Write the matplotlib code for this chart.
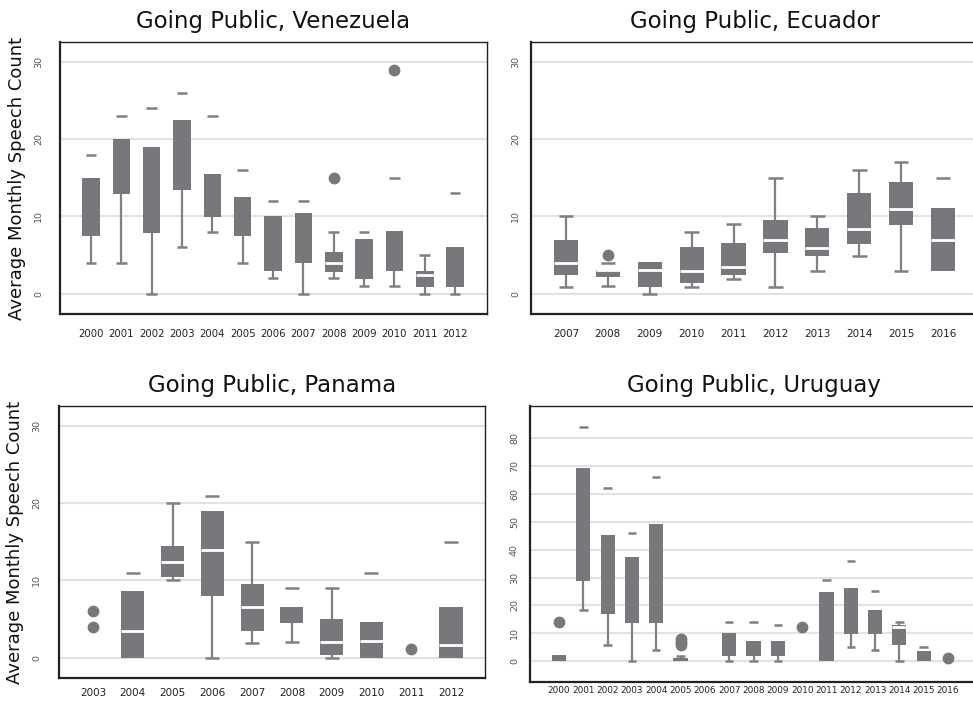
import numpy as np
import matplotlib
matplotlib.use("Agg")
import matplotlib.pyplot as plt

nan = np.nan

# Venezuela
ven_years = list(range(2000, 2013))
ven_lo = [4, 4, 0, 6, 8, 4, 2, 0, 2, 1, 1, 0, 0]
ven_q1 = [7.4, 12.9, 7.9, 13.4, 9.9, 7.4, 2.9, 3.9, 2.8, 1.9, 2.9, 0.8, 0.9]
ven_med = [nan, nan, nan, nan, nan, nan, nan, nan, 3.9, nan, nan, 2.4, nan]
ven_q3 = [15, 20, 19, 22.5, 15.5, 12.5, 10, 10.5, 5.4, 7.05, 8.05, 2.9, 6.05]
ven_hi = [18, 23, 24, 26, 23, 16, 12, 12, 8, 8, 15, 5, 13]
ven_upline = [0, 0, 0, 0, 0, 0, 0, 0, 1, 0, 0, 1, 0]
ven_out = {2008: [15], 2010: [29]}

# Ecuador
ecu_years = list(range(2007, 2017))
ecu_lo = [0.9, 0.95, 0, 0.9, 1.9, 0.9, 2.9, 4.9, 2.9, nan]
ecu_q1 = [2.4, 2.1, 0.9, 1.35, 2.4, 5.3, 4.85, 6.4, 8.9, 2.9]
ecu_med = [4.0, 3.0, 3.0, 2.95, 3.4, 7.0, 5.9, 8.4, 11.0, 7.0]
ecu_q3 = [7.0, 3.1, 4.1, 6.0, 6.5, 9.5, 8.5, 13.0, 14.5, 11.1]
ecu_hi = [10, 4, nan, 8, 9, 15, 10, 16, 17, 15]
ecu_upline = [1, 0, 0, 1, 1, 1, 1, 1, 1, 0]
ecu_out = {2008: [5]}

# Panama
pan_years = list(range(2003, 2013))
pan_lo = [nan, nan, 10, 0, 1.95, 2, 0, nan, nan, nan]
pan_q1 = [nan, 0, 10.4, 8, 3.45, 4.45, 0.35, 0, nan, 0]
pan_med = [nan, 3.5, 12.4, 14, 6.5, nan, 2.0, 2.15, nan, 1.6]
pan_q3 = [nan, 8.6, 14.5, 19.05, 9.5, 6.6, 4.95, 4.65, nan, 6.6]
pan_hi = [nan, 11, 20, 21, 15, 9, 9, 11, nan, 15]
pan_upline = [0, 0, 1, 0, 1, 0, 1, 0, 0, 0]
pan_out = {2003: [6, 4], 2011: [1.1]}

# Uruguay
uru_years = list(range(2000, 2017))
uru_lo = [nan, 18.2, 6, 0, 4.2, nan, nan, 0, 0, 0, nan, nan, 5, 4.2, 0, nan, nan]
uru_q1 = [0, 28.8, 16.8, 13.8, 13.8, 0, nan, 1.9, 1.9, 1.9, nan, 0, 9.9, 9.9, 5.8, 0, nan]
uru_med = [nan] * 14 + [12.3, nan, nan]
uru_q3 = [2.3, 69.2, 45.2, 37.3, 49.2, 1.3, nan, 10.2, 7.3, 7.3, nan, 24.8, 26.2, 18.3, 12.9, 3.7, nan]
uru_hi = [nan, 84, 62, 46, 66, 2, nan, 14, 14, 13, nan, 29, 36, 25, 14, 5, nan]
uru_upline = [0, 0, 0, 0, 0, 1, 0, 0, 0, 0, 0, 0, 0, 0, 1, 0, 0]
uru_out = {2000: [14], 2005: [6, 7, 8], 2010: [12.3], 2016: [1.2]}

BOX = "#77787c"
WHISK = "#808084"
W = 0.58
CAP = 0.35


def draw_panel(ax, years, lo, q1, med, q3, hi, upline, outliers, title,
               xlim, ylim, yticks, xfs, xpad, ypad):
    pos = np.arange(1, len(years) + 1)
    lo, q1, med, q3, hi = (np.array(a, dtype=float) for a in (lo, q1, med, q3, hi))
    upline = np.array(upline, dtype=bool)

    # boxes
    has_box = ~np.isnan(q1)
    ax.bar(pos[has_box], (q3 - q1)[has_box], bottom=q1[has_box], width=W,
           color=BOX, zorder=3)

    # lower whiskers + caps
    m = ~np.isnan(lo)
    ax.vlines(pos[m], lo[m], q1[m], color=WHISK, lw=1.6, zorder=2)
    ax.hlines(lo[m], pos[m] - CAP / 2, pos[m] + CAP / 2, color=WHISK, lw=1.8, zorder=2)

    # upper caps, whisker line only where it shows in the original
    m = ~np.isnan(hi)
    ax.hlines(hi[m], pos[m] - CAP / 2, pos[m] + CAP / 2, color=WHISK, lw=1.8, zorder=2)
    m2 = m & upline
    ax.vlines(pos[m2], q3[m2], hi[m2], color=WHISK, lw=1.6, zorder=2)

    # medians
    m = ~np.isnan(med)
    ax.hlines(med[m], pos[m] - W / 2, pos[m] + W / 2, color="white", lw=2, zorder=4)

    for yr, vals in outliers.items():
        p = years.index(yr) + 1
        ax.plot([p] * len(vals), vals, "o", color=BOX, ms=7.5, mec=BOX, zorder=4)

    ax.set_xlim(*xlim)
    ax.set_ylim(*ylim)
    ax.set_xticks(pos)
    ax.set_xticklabels([str(y) for y in years], fontsize=xfs, color="#222222")
    ax.set_yticks(yticks)
    ax.set_yticklabels([str(t) for t in yticks], fontsize=6.8, color="#555555",
                       rotation=90, va="center")
    ax.tick_params(axis="both", length=0)
    ax.tick_params(axis="x", pad=xpad)
    ax.tick_params(axis="y", pad=ypad)
    ax.yaxis.grid(True, color="#e2e2e2", lw=1.5)
    ax.set_axisbelow(True)
    for side in ["left", "bottom"]:
        ax.spines[side].set_linewidth(1.6)
        ax.spines[side].set_color("#222222")
    for side in ["top", "right"]:
        ax.spines[side].set_linewidth(1.0)
        ax.spines[side].set_color("#222222")
    ax.set_title(title, fontsize=16.5, pad=10, color="#111111")


fig = plt.figure(figsize=(9.73, 7.05), dpi=100)
FW, FH = 973.0, 705.0


def add_axes(l, t, r, b):
    return fig.add_axes([l / FW, (FH - b) / FH, (r - l) / FW, (b - t) / FH])


ax1 = add_axes(60, 42, 487, 314)
ax2 = add_axes(531, 42, 978, 314)
ax3 = add_axes(59, 406, 485, 678)
ax4 = add_axes(530, 406, 977, 682)

small_ylim = (-2.65, 32.6)
draw_panel(ax1, ven_years, ven_lo, ven_q1, ven_med, ven_q3, ven_hi, ven_upline, ven_out,
           "Going Public, Venezuela", (-0.02, 14.05), small_ylim, [0, 10, 20, 30], 7.3, 11, 12)
draw_panel(ax2, ecu_years, ecu_lo, ecu_q1, ecu_med, ecu_q3, ecu_hi, ecu_upline, ecu_out,
           "Going Public, Ecuador", (0.165, 10.835), small_ylim, [0, 10, 20, 30], 7.5, 11, 8)
draw_panel(ax3, pan_years, pan_lo, pan_q1, pan_med, pan_q3, pan_hi, pan_upline, pan_out,
           "Going Public, Panama", (0.146, 10.854), small_ylim, [0, 10, 20, 30], 7.5, 7, 13)
draw_panel(ax4, uru_years, uru_lo, uru_q1, uru_med, uru_q3, uru_hi, uru_upline, uru_out,
           "Going Public, Uruguay", (-0.19, 18.19), (-7.4, 91.4), list(range(0, 90, 10)), 6.4, 3, 8)

for ax in (ax1, ax3):
    ax.set_ylabel("Average Monthly Speech Count", fontsize=13, labelpad=6, color="#111111")

fig.savefig("out.png", dpi=100)
